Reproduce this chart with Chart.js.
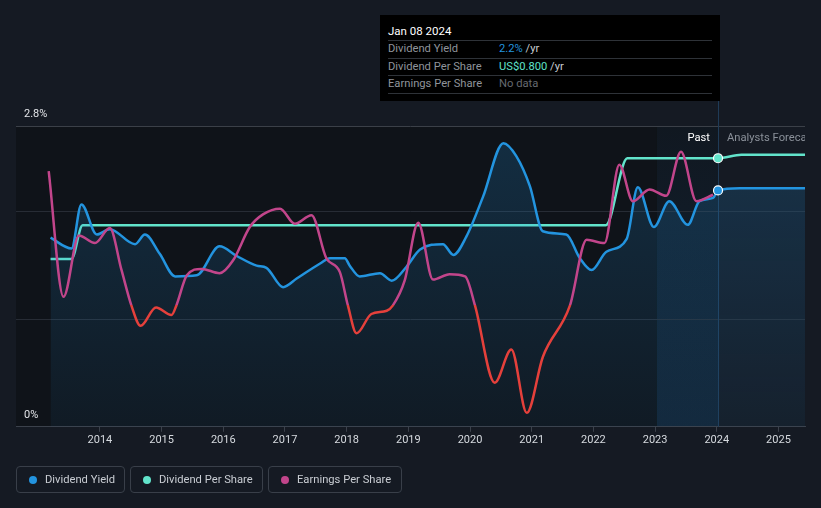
<!DOCTYPE html>
<html>
<head>
<meta charset="utf-8">
<script src="https://cdn.jsdelivr.net/npm/chart.js@4.4.1/dist/chart.umd.min.js"></script>
<style>
    html, body { margin: 0; padding: 0; background: #151a23; }
    body { width: 821px; height: 508px; position: relative; overflow: hidden;
           font-family: Roboto, 'Noto Sans', sans-serif; }
    #wrap { position: absolute; left: 0; top: 0; width: 821px; height: 508px; }

    /* ── static tooltip ── */
    .tip { position: absolute; left: 380px; top: 15px; width: 340px; height: 86px;
           background: #000; box-sizing: border-box; padding: 8px 8px 0 8px; }
    .tip-title { color: #fff; font-size: 11.5px; line-height: 17px; border-bottom: 1px solid #2e3238; }
    .tip-row { font-size: 11.2px; line-height: 16.5px; border-bottom: 1px solid #2e3238; display: flex; }
    .tip-row .lbl { width: 111px; color: #8f949b; }
    .tip-row .unit { color: #c9cdd2; }

    /* ── legend ── */
    .legend { position: absolute; left: 16px; top: 466px; display: flex; gap: 5px; }
    .legend-item { height: 27px; box-sizing: border-box; border: 1px solid #393f49; border-radius: 4px;
                   display: flex; align-items: center; padding-left: 12px; font-size: 11.2px; color: #c9cdd3; }
    .legend-dot { width: 8px; height: 8px; border-radius: 50%; margin-right: 8px; }
</style>
</head>
<body>
<div id="wrap"><canvas id="chart"></canvas></div>

<div class="tip">
    <div class="tip-title">Jan 08 2024</div>
    <div class="tip-row"><span class="lbl">Dividend Yield</span><span style="color:#2394df">2.2%</span><span class="unit">&nbsp;/yr</span></div>
    <div class="tip-row"><span class="lbl">Dividend Per Share</span><span style="color:#5fe3ca">US$0.800</span><span class="unit">&nbsp;/yr</span></div>
    <div class="tip-row"><span class="lbl">Earnings Per Share</span><span style="color:#666a70">No data</span></div>
</div>

<div class="legend" id="legend"></div>

<script>
/* ── Data ── */

const tickYears = [2014, 2015, 2016, 2017, 2018, 2019, 2020, 2021, 2022, 2023, 2024, 2025];

// Dividend yield, % (past + analysts forecast)
const yieldYears  = [2013.20, 2013.54, 2013.70, 2013.95, 2014.16, 2014.57, 2014.73, 2014.97, 2015.22, 2015.57,
                     2015.94, 2016.22, 2016.54, 2016.70, 2016.97, 2017.19, 2017.57, 2017.73, 2017.97, 2018.05,
                     2018.21, 2018.54, 2018.73, 2018.97, 2019.19, 2019.56, 2019.73, 2019.94, 2020.21, 2020.54,
                     2020.75, 2020.97, 2021.18, 2021.56, 2021.78, 2021.97, 2022.21, 2022.54, 2022.72, 2022.98,
                     2023.23, 2023.53, 2023.72, 2023.94, 2024.02, 2024.37, 2025.43];
const yieldValues = [1.76, 1.66, 2.07, 1.79, 1.84, 1.70, 1.79, 1.61, 1.40, 1.41,
                     1.68, 1.59, 1.50, 1.48, 1.30, 1.38, 1.52, 1.57, 1.57, 1.50,
                     1.40, 1.43, 1.36, 1.49, 1.65, 1.70, 1.60, 1.77, 2.14, 2.64,
                     2.52, 2.24, 1.82, 1.79, 1.57, 1.46, 1.63, 1.75, 2.23, 1.86,
                     2.10, 1.88, 2.10, 2.13, 2.20, 2.22, 2.22];

// Dividend per share, US$
const dpsYears  = [2013.20, 2013.54, 2013.72, 2022.20, 2022.55, 2024.02, 2024.40, 2025.43];
const dpsValues = [0.50, 0.50, 0.60, 0.60, 0.80, 0.80, 0.81, 0.81];

// Earnings per share (relative scale, own hidden axis)
const epsYears  = [2013.17, 2013.41, 2013.66, 2013.92, 2014.16, 2014.35, 2014.51, 2014.66, 2014.91, 2015.16,
                   2015.24, 2015.41, 2015.65, 2015.94, 2016.16, 2016.43, 2016.65, 2016.92, 2017.16, 2017.43,
                   2017.67, 2017.89, 2018.02, 2018.16, 2018.40, 2018.65, 2018.75, 2018.94, 2019.16, 2019.40,
                   2019.67, 2019.92, 2020.08, 2020.40, 2020.67, 2020.92, 2021.18, 2021.62, 2021.89, 2022.18,
                   2022.42, 2022.64, 2022.91, 2023.18, 2023.42, 2023.67, 2023.94];
const epsValues = [2.38, 1.21, 1.78, 1.71, 1.85, 1.46, 1.13, 0.94, 1.11, 1.04,
                   1.13, 1.41, 1.47, 1.43, 1.55, 1.86, 1.98, 2.03, 1.89, 1.97,
                   1.57, 1.44, 1.13, 0.87, 1.05, 1.08, 1.13, 1.36, 1.90, 1.37,
                   1.42, 1.40, 1.13, 0.41, 0.72, 0.13, 0.65, 1.13, 1.74, 1.71,
                   2.44, 2.10, 2.21, 2.15, 2.56, 2.10, 2.16];
const epsWarn = 1.13;   // below this the EPS line turns red

const todayYear     = 2024.02;  // Jan 08 2024
const pastYearStart = 2023.03;

const C_YIELD = '#2394df';
const C_DPS   = '#62e4cb';
const C_EPS   = '#c2458b';
const C_LOW   = '#e5403b';

const FONT = "Roboto, 'Noto Sans', sans-serif";

/* ── Legend ── */

function makeLegendHTML(items) {
    return items.map(({ color, label, width }) => `
        <div class="legend-item" style="width:${width}px">
            <span class="legend-dot" style="background:${color}"></span>
            <span>${label}</span>
        </div>`).join('');
}

document.getElementById('legend').innerHTML = makeLegendHTML([
    { color: C_YIELD, label: 'Dividend Yield',     width: 109 },
    { color: C_DPS,   label: 'Dividend Per Share', width: 133 },
    { color: C_EPS,   label: 'Earnings Per Share', width: 134 },
]);

/* ── Plugins ── */

const backdropPlugin = {
    id: 'backdrop',
    beforeDraw(chart) {
        const { ctx, chartArea: { left, top, bottom }, scales: { x } } = chart;
        const xPast = x.getPixelForValue(pastYearStart);
        const xNow  = x.getPixelForValue(todayYear);
        ctx.save();
        ctx.fillStyle = '#0f1319';
        ctx.fillRect(left, top, xPast - left, bottom - top);
        const g = ctx.createLinearGradient(0, top, 0, bottom);
        g.addColorStop(0, 'rgba(30,110,180,0.03)');
        g.addColorStop(1, 'rgba(30,110,180,0.16)');
        ctx.fillStyle = '#10151c';
        ctx.fillRect(xPast, top, xNow - xPast, bottom - top);
        ctx.fillStyle = g;
        ctx.fillRect(xPast, top, xNow - xPast, bottom - top);
        ctx.restore();
    },
    beforeDatasetsDraw(chart) {
        const { ctx, chartArea: { bottom }, scales: { x } } = chart;
        const xNow = Math.round(x.getPixelForValue(todayYear)) + 0.5;
        ctx.save();
        ctx.strokeStyle = '#1f3b57';
        ctx.lineWidth = 1;
        ctx.beginPath();
        ctx.moveTo(xNow, 101);
        ctx.lineTo(xNow, bottom);
        ctx.stroke();
        ctx.restore();
    },
    afterDatasetsDraw(chart) {
        const { ctx, chartArea: { right, top }, scales: { x, y } } = chart;
        const xNow = x.getPixelForValue(todayYear);
        ctx.save();
        ctx.font = `11.2px ${FONT}`;
        ctx.textBaseline = 'middle';
        ctx.textAlign = 'right';
        ctx.fillStyle = '#ffffff';
        ctx.fillText('Past', xNow - 8, top + 12);
        ctx.beginPath();
        ctx.rect(xNow, top, right - xNow, 30);
        ctx.clip();
        ctx.textAlign = 'left';
        ctx.fillStyle = '#8a9099';
        ctx.fillText('Analysts Forecast', xNow + 9, top + 12);
        ctx.restore();

        ctx.save();
        ctx.font = `11px ${FONT}`;
        ctx.fillStyle = '#e2e4e8';
        ctx.textBaseline = 'middle';
        ctx.textAlign = 'left';
        ctx.fillText('2.8%', 24, y.getPixelForValue(2.8) - 12);
        ctx.fillText('0%', 24, y.getPixelForValue(0) - 12);
        ctx.restore();
    }
};

/* ── Chart ── */

const toPoints = (xs, ys) => xs.map((x, i) => ({ x, y: ys[i] }));
const markerRadius = c => (c.raw && c.raw.x === todayYear ? 4.5 : 0);

function yieldFill(c) {
    const { ctx, chartArea } = c.chart;
    if (!chartArea) return 'rgba(35,148,223,0.12)';
    const g = ctx.createLinearGradient(0, chartArea.top, 0, chartArea.bottom);
    g.addColorStop(0, 'rgba(35,148,223,0.21)');
    g.addColorStop(1, 'rgba(35,148,223,0.06)');
    return g;
}

function epsStroke(c) {
    const { ctx, chartArea, scales } = c.chart;
    if (!chartArea) return C_EPS;
    const yT = scales.yEps.getPixelForValue(epsWarn);
    const t  = Math.min(1, Math.max(0, (yT - chartArea.top) / (chartArea.bottom - chartArea.top)));
    const g  = ctx.createLinearGradient(0, chartArea.top, 0, chartArea.bottom);
    g.addColorStop(0, C_EPS);
    g.addColorStop(t, C_EPS);
    g.addColorStop(t, C_LOW);
    g.addColorStop(1, C_LOW);
    return g;
}

new Chart(document.getElementById('chart').getContext('2d'), {
    type: 'line',
    plugins: [backdropPlugin],
    data: {
        datasets: [
            {
                label: 'Earnings Per Share',
                data: toPoints(epsYears, epsValues),
                yAxisID: 'yEps',
                borderColor: epsStroke,
                borderWidth: 2.5,
                pointRadius: 0,
                cubicInterpolationMode: 'monotone',
                fill: false,
                order: 0,
            },
            {
                label: 'Dividend Yield',
                data: toPoints(yieldYears, yieldValues),
                yAxisID: 'y',
                borderColor: C_YIELD,
                borderWidth: 2.5,
                backgroundColor: yieldFill,
                fill: 'origin',
                cubicInterpolationMode: 'monotone',
                pointRadius: markerRadius,
                pointBackgroundColor: C_YIELD,
                pointBorderColor: '#ffffff',
                pointBorderWidth: 1.2,
                order: 1,
            },
            {
                label: 'Dividend Per Share',
                data: toPoints(dpsYears, dpsValues),
                yAxisID: 'yDps',
                borderColor: C_DPS,
                borderWidth: 2.5,
                fill: false,
                cubicInterpolationMode: 'monotone',
                pointRadius: markerRadius,
                pointBackgroundColor: C_DPS,
                pointBorderColor: '#ffffff',
                pointBorderWidth: 1.2,
                order: 2,
            },
        ]
    },
    options: {
        responsive: true,
        maintainAspectRatio: false,
        animation: false,
        events: [],
        layout: { padding: { left: 16, right: 16, top: 126, bottom: 59 } },
        plugins: {
            legend:  { display: false },
            tooltip: { enabled: false },
        },
        scales: {
            x: {
                type: 'linear',
                min: 2012.64,
                max: 2025.43,
                afterBuildTicks: s => { s.ticks = tickYears.map(v => ({ value: v })); },
                ticks: {
                    color: '#d6dadf',
                    font: { size: 11, family: FONT },
                    padding: 2,
                    maxRotation: 0,
                    callback: v => String(v),
                },
                grid:   { drawOnChartArea: false, drawTicks: true, tickLength: 5, color: '#3b414b' },
                border: { display: true, color: '#3b414b' },
            },
            y: {
                min: 0,
                max: 2.8,
                afterBuildTicks: s => { s.ticks = [0, 1, 2, 2.8].map(v => ({ value: v })); },
                ticks:  { display: false },
                grid:   { drawTicks: false, color: c => (c.tick.value === 2.8 ? '#3b4048' : '#272c35') },
                border: { display: false },
            },
            yDps: { display: false, min: 0, max: 0.896 },
            yEps: { display: false, min: 0, max: 2.8 },
        }
    }
});
</script>
</body>
</html>
